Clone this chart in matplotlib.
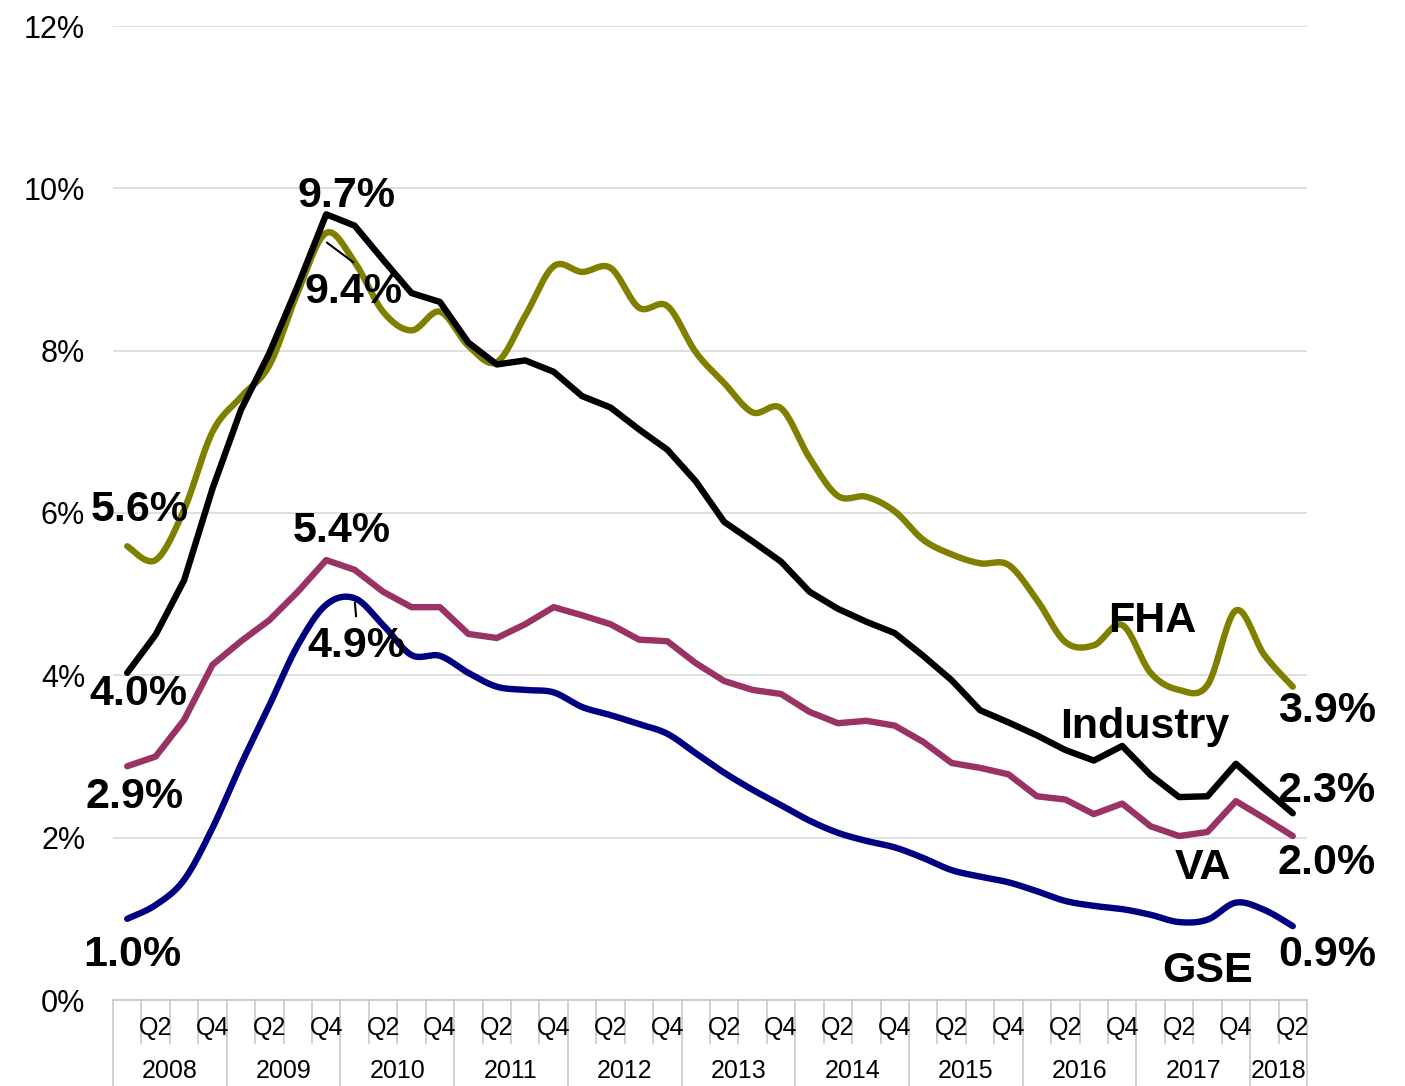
import numpy as np
import matplotlib.pyplot as plt
import matplotlib.transforms as mtransforms

plt.rcParams['font.family'] = ['Liberation Sans', 'DejaVu Sans']

# quarterly data, 2008 Q1 .. 2018 Q2 (percent)
years = ['2008', '2009', '2010', '2011', '2012', '2013', '2014', '2015',
         '2016', '2017', '2018']
quarters_per_year = [4, 4, 4, 4, 4, 4, 4, 4, 4, 4, 2]

fha = [5.59, 5.42, 6.04, 7.00, 7.43, 7.82, 8.72, 9.45, 9.09, 8.48, 8.25, 8.48,
       8.06, 7.86, 8.43, 9.04, 8.97, 9.02, 8.53, 8.55, 7.98, 7.60, 7.24, 7.29,
       6.68, 6.21, 6.20, 6.02, 5.67, 5.49, 5.38, 5.36, 4.93, 4.41, 4.37, 4.62,
       4.03, 3.82, 3.88, 4.80, 4.25, 3.86]
industry = [4.03, 4.50, 5.17, 6.30, 7.27, 7.97, 8.80, 9.68, 9.54, 9.12, 8.71, 8.60,
            8.10, 7.83, 7.88, 7.74, 7.44, 7.30, 7.03, 6.78, 6.39, 5.89, 5.65, 5.40,
            5.03, 4.82, 4.66, 4.52, 4.24, 3.94, 3.57, 3.42, 3.26, 3.08, 2.95, 3.13,
            2.77, 2.50, 2.51, 2.91, 2.60, 2.30]
va = [2.88, 3.00, 3.45, 4.13, 4.42, 4.68, 5.03, 5.42, 5.30, 5.03, 4.84, 4.84,
      4.51, 4.46, 4.63, 4.84, 4.74, 4.63, 4.44, 4.42, 4.15, 3.93, 3.82, 3.77,
      3.55, 3.41, 3.44, 3.38, 3.18, 2.92, 2.86, 2.78, 2.51, 2.47, 2.29, 2.42,
      2.14, 2.02, 2.07, 2.45, 2.24, 2.02]
gse = [1.00, 1.17, 1.48, 2.12, 2.90, 3.63, 4.37, 4.87, 4.95, 4.62, 4.25, 4.24,
       4.03, 3.86, 3.82, 3.79, 3.61, 3.51, 3.40, 3.28, 3.04, 2.80, 2.59, 2.40,
       2.21, 2.06, 1.96, 1.88, 1.75, 1.60, 1.52, 1.45, 1.34, 1.22, 1.16, 1.12,
       1.05, 0.96, 0.99, 1.20, 1.11, 0.91]

yticks = [0, 2, 4, 6, 8, 10, 12]


def smooth(x, y, n=20):
    # Excel-style smoothed line (cubic Bezier through the points)
    x = np.asarray(x, float)
    y = np.asarray(y, float)
    px = np.concatenate([[x[0]], x, [x[-1]]])
    py = np.concatenate([[y[0]], y, [y[-1]]])
    t = np.linspace(0, 1, n)[:, None]
    xs, ys = [], []
    for i in range(1, len(px) - 2):
        p0 = np.array([px[i], py[i]])
        p3 = np.array([px[i + 1], py[i + 1]])
        c1 = p0 + (np.array([px[i + 1], py[i + 1]]) - np.array([px[i - 1], py[i - 1]])) / 6
        c2 = p3 - (np.array([px[i + 2], py[i + 2]]) - np.array([px[i], py[i]])) / 6
        b = ((1 - t) ** 3) * p0 + 3 * ((1 - t) ** 2) * t * c1 + 3 * (1 - t) * t ** 2 * c2 + t ** 3 * p3
        xs.append(b[:, 0])
        ys.append(b[:, 1])
    return np.concatenate(xs), np.concatenate(ys)


x = np.arange(len(industry))

fig = plt.figure(figsize=(14.05, 10.86), dpi=100)
ax = fig.add_axes([113 / 1405, 86 / 1086, 1194 / 1405, 974 / 1086])

lw = 4.6
ax.plot(*smooth(x, fha), color='#808000', lw=lw, solid_capstyle='round', zorder=3)
ax.plot(x, va, color='#993366', lw=lw, solid_capstyle='round', zorder=3)
ax.plot(*smooth(x, gse), color='#000080', lw=lw, solid_capstyle='round', zorder=3)
ax.plot(x, industry, color='black', lw=lw, solid_capstyle='round', zorder=4)

ax.set_xlim(-0.5, len(x) - 0.5)
ax.set_ylim(0, 12)
ax.set_yticks(yticks)
ax.set_yticklabels([f'{v}%' for v in yticks], fontsize=22)
ax.tick_params(axis='y', length=0, pad=20)
ax.grid(axis='y', color='#d9d9d9', lw=1.2)
ax.set_axisbelow(True)
for s in ['top', 'right', 'left']:
    ax.spines[s].set_visible(False)
ax.spines['bottom'].set_color('#c8c8c8')
ax.spines['bottom'].set_linewidth(1.2)
ax.set_xticks([])

# two-level category axis
trans = mtransforms.blended_transform_factory(ax.transData, ax.transAxes)
pos = -0.5
k = 0
for yr, nq in zip(years, quarters_per_year):
    ax.plot([pos, pos], [0, -0.09], color='#c8c8c8', lw=1.2, transform=trans, clip_on=False)
    for q in range(nq):
        if q > 0:
            ax.plot([pos + q, pos + q], [0, -0.044], color='#c8c8c8', lw=1.2,
                    transform=trans, clip_on=False)
        if q in (1, 3):
            ax.text(k + q, -0.029, f'Q{q + 1}', transform=trans, ha='center',
                    va='center', fontsize=18)
    ax.text(pos + nq / 2, -0.073, yr, transform=trans, ha='center', va='center', fontsize=18)
    pos += nq
    k += nq
ax.plot([pos, pos], [0, -0.09], color='#c8c8c8', lw=1.2, transform=trans, clip_on=False)

# data and series labels
lab = dict(fontsize=31, fontweight='bold', ha='center', va='center', zorder=6)
ax.text(7.7, 9.9, '9.7%', **lab)
ax.text(7.95, 8.72, '9.4%', **lab)
ax.text(0.45, 6.04, '5.6%', **lab)
ax.text(0.38, 3.77, '4.0%', **lab)
ax.text(7.55, 5.78, '5.4%', **lab)
ax.text(8.05, 4.36, '4.9%', **lab)
ax.text(0.27, 2.50, '2.9%', **lab)
ax.text(0.17, 0.55, '1.0%', **lab)
ax.text(36.05, 4.67, 'FHA', **lab)
ax.text(42.2, 3.56, '3.9%', **lab)
ax.text(35.8, 3.36, 'Industry', **lab)
ax.text(42.2, 2.57, '2.3%', **lab)
ax.text(37.85, 1.63, 'VA', **lab)
ax.text(42.2, 1.69, '2.0%', **lab)
ax.text(38.0, 0.36, 'GSE', **lab)
ax.text(42.2, 0.55, '0.9%', **lab)
for t in ax.texts[-16:]:
    t.set_clip_on(False)

# leader lines
ax.plot([7.03, 7.95], [9.33, 9.09], color='black', lw=1.5, zorder=5)
ax.plot([8.01, 8.05], [4.89, 4.73], color='black', lw=1.5, zorder=5)

fig.savefig('out.png', dpi=100)
